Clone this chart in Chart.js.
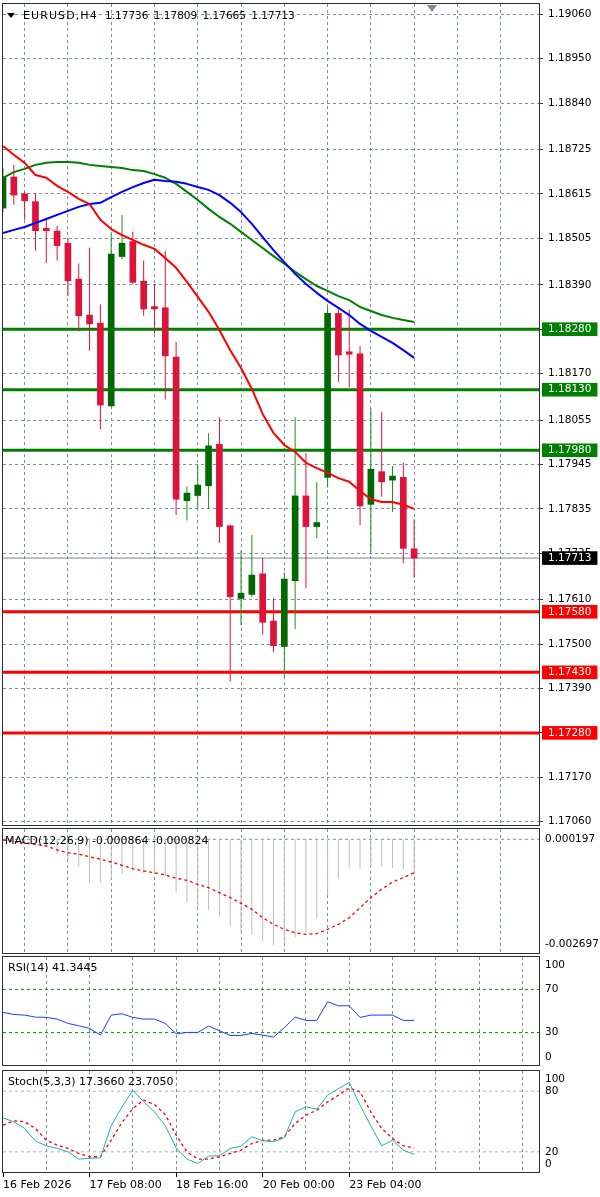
<!DOCTYPE html>
<html>
<head>
<meta charset="utf-8">
<title>EURUSD H4</title>
<script src="https://cdn.jsdelivr.net/npm/chart.js@4.4.1/dist/chart.umd.min.js"></script>
<style>
  html, body { margin:0; padding:0; background:#ffffff; }
  #wrap { position:relative; width:600px; height:1197px; overflow:hidden; background:#fff; }
  #wrap canvas { position:absolute; left:0; }
  .lbl { position:absolute; font-family:'DejaVu Sans', sans-serif; font-size:11px; line-height:13px; color:#000; white-space:pre; z-index:5; }
  .tri { position:absolute; width:0; height:0; z-index:5; }
</style>
</head>
<body>
<div id="wrap">
  <canvas id="cMain"></canvas>
  <canvas id="cMacd"></canvas>
  <canvas id="cRsi"></canvas>
  <canvas id="cStoch"></canvas>
  <div class="tri" style="left:7px;top:13px;border-left:4px solid transparent;border-right:4px solid transparent;border-top:5px solid #000;"></div>
  <div class="lbl" id="tMain" style="left:23px;top:9px;"></div>
  <div class="tri" style="left:427px;top:5px;border-left:5px solid transparent;border-right:5px solid transparent;border-top:7px solid #7d8c9b;"></div>
  <div class="lbl" id="tMacd" style="left:5px;top:834px;"></div>
  <div class="lbl" id="tRsi" style="left:8px;top:961px;"></div>
  <div class="lbl" id="tStoch" style="left:8px;top:1075px;"></div>
</div>
<script>
// ===================== DATA =====================
const symbolName = 'EURUSD,H4';

const open  = [1.18580,1.18657,1.18615,1.18596,1.18530,1.18523,1.18493,1.18404,1.18315,1.18295,1.18090,1.18460,1.18497,1.18399,1.18336,1.18333,1.18211,1.17855,1.17868,1.17892,1.17995,1.17793,1.17613,1.17623,1.17674,1.17557,1.17494,1.17657,1.17867,1.17791,1.17913,1.18319,1.18224,1.18219,1.17846,1.17927,1.17906,1.17913,1.17736];
const high  = [1.18679,1.18687,1.18620,1.18618,1.18551,1.18536,1.18505,1.18443,1.18482,1.18342,1.18516,1.18563,1.18522,1.18450,1.18392,1.18474,1.18248,1.17890,1.17945,1.18022,1.18062,1.17795,1.17731,1.17770,1.17713,1.17613,1.17677,1.18062,1.17973,1.17901,1.18336,1.18332,1.18328,1.18238,1.18084,1.18074,1.17941,1.17949,1.17809];
const low   = [1.18570,1.18588,1.18551,1.18474,1.18444,1.18450,1.18362,1.18274,1.18227,1.18032,1.18088,1.18453,1.18392,1.18313,1.18270,1.18106,1.17820,1.17806,1.17835,1.17835,1.17751,1.17407,1.17547,1.17617,1.17523,1.17480,1.17419,1.17537,1.17638,1.17762,1.17888,1.18150,1.18136,1.17795,1.17729,1.17865,1.17828,1.17700,1.17665];
const close = [1.18657,1.18612,1.18598,1.18524,1.18524,1.18487,1.18400,1.18313,1.18293,1.18092,1.18466,1.18493,1.18396,1.18330,1.18330,1.18214,1.17859,1.17874,1.17894,1.17991,1.17791,1.17617,1.17626,1.17671,1.17554,1.17496,1.17661,1.17867,1.17791,1.17801,1.18319,1.18216,1.18218,1.17842,1.17933,1.17902,1.17916,1.17737,1.17713];

const maRed   = [1.18734,1.18712,1.18692,1.18662,1.18655,1.18635,1.18620,1.18603,1.18590,1.18551,1.18528,1.18513,1.18501,1.18489,1.18479,1.18456,1.18432,1.18397,1.18360,1.18323,1.18278,1.18228,1.18184,1.18132,1.18070,1.18023,1.17993,1.17976,1.17949,1.17936,1.17924,1.17911,1.17902,1.17879,1.17859,1.17852,1.17852,1.17845,1.17835];
const maBlue  = [1.18518,1.18526,1.18533,1.18543,1.18553,1.18563,1.18573,1.18583,1.18590,1.18593,1.18607,1.18620,1.18632,1.18642,1.18650,1.18647,1.18645,1.18640,1.18632,1.18625,1.18612,1.18593,1.18570,1.18541,1.18508,1.18476,1.18446,1.18417,1.18392,1.18370,1.18350,1.18333,1.18315,1.18293,1.18276,1.18261,1.18246,1.18228,1.18209];
const maGreen = [1.18655,1.18669,1.18677,1.18687,1.18692,1.18694,1.18694,1.18692,1.18687,1.18684,1.18682,1.18679,1.18674,1.18672,1.18664,1.18655,1.18640,1.18620,1.18600,1.18578,1.18558,1.18541,1.18521,1.18501,1.18481,1.18461,1.18442,1.18422,1.18404,1.18387,1.18375,1.18362,1.18352,1.18335,1.18325,1.18315,1.18308,1.18303,1.18298];

const greenLevels = [1.18280, 1.18130, 1.17980];
const redLevels   = [1.17580, 1.17430, 1.17280];

const yTickLabels = ['1.19060','1.18950','1.18840','1.18725','1.18615','1.18505','1.18390','1.18280','1.18170','1.18055','1.17945','1.17835','1.17725','1.17610','1.17500','1.17390','1.17280','1.17170','1.17060'];

const macdHist   = [-0.000042,-0.000067,-0.000091,-0.000141,-0.000190,-0.000371,-0.000511,-0.000684,-0.001087,-0.001072,-0.000988,-0.000850,-0.000766,-0.000825,-0.000840,-0.000906,-0.001319,-0.001549,-0.001714,-0.001746,-0.001912,-0.002141,-0.002322,-0.002347,-0.002512,-0.002611,-0.002554,-0.002430,-0.002290,-0.001961,-0.001383,-0.000973,-0.000701,-0.000726,-0.000701,-0.000677,-0.000701,-0.000741,-0.000864];
const macdSignal = [-0.000017,-0.000054,-0.000091,-0.000128,-0.000165,-0.000264,-0.000331,-0.000371,-0.000430,-0.000494,-0.000561,-0.000642,-0.000726,-0.000783,-0.000825,-0.000882,-0.000963,-0.001013,-0.001112,-0.001195,-0.001319,-0.001442,-0.001581,-0.001729,-0.001936,-0.002100,-0.002223,-0.002307,-0.002347,-0.002332,-0.002223,-0.002100,-0.001936,-0.001689,-0.001442,-0.001235,-0.001055,-0.000948,-0.000824];
const macdAxisLabels = ['0.000197', '-0.002697'];

const rsi = [48.67,46.82,46.20,44.35,44.05,42.50,38.49,36.33,33.86,27.69,46.20,47.44,44.05,42.50,42.50,38.49,28.92,30.16,30.16,36.02,31.70,27.38,27.38,29.23,27.69,25.83,34.47,44.35,41.27,41.27,58.55,54.84,54.84,44.05,46.20,46.20,46.20,41.27,41.3445];
const rsiLevels = [70, 30];
const rsiEdgeLabels = [100, 0];

const stochK = [53.64,49.69,43.10,30.58,25.96,23.33,20.03,12.79,13.45,14.10,45.74,64.51,80.99,69.46,59.57,45.74,23.99,12.79,8.50,15.75,16.08,23.33,25.64,34.86,30.90,29.92,33.87,59.57,64.51,62.21,76.05,82.64,88.57,66.16,45.74,25.96,31.55,21.68,17.3660];
const stochD = [46.39,50.67,49.69,43.10,31.57,26.62,23.33,18.39,15.09,15.09,31.57,49.03,62.87,71.10,66.82,56.94,36.51,20.03,12.79,12.79,15.09,18.39,21.68,28.28,31.24,31.57,34.86,48.04,56.28,61.22,69.46,76.05,83.29,79.34,59.57,43.10,33.21,25.96,23.7050];
const stochLevels = [80, 20];
const stochEdgeLabels = [100, 0];

const xGridBars  = [0,4,8,12,16,20,24,28,32,36,40,44,48];
const xLabelBars = [0,8,16,24,32];
const xLabels    = ['16 Feb 2026','17 Feb 08:00','18 Feb 16:00','20 Feb 00:00','23 Feb 04:00'];

// ===================== STYLE / LAYOUT =====================
const FONT = 'DejaVu Sans';
const GRID = '#7f8e9d';
const CLEAR = 'rgba(0,0,0,0)';
const X_MIN = 0, X_MAX = 49.54;
const AXIS_W = 61;

const n = close.length;
const pts = arr => arr.map((v, i) => ({x: i, y: v}));
const span = v => [{x: X_MIN, y: v}, {x: X_MAX, y: v}];

function setupCanvas(id, areaTop, areaBottom, extraTop, extraBottom) {
  const cv = document.getElementById(id);
  const h = (areaBottom - areaTop) + extraTop + extraBottom;
  cv.width = 600; cv.height = h;
  cv.style.width = '600px'; cv.style.height = h + 'px';
  cv.style.top = (areaTop - extraTop) + 'px';
  return cv;
}

const framePlugin = {
  id: 'frame',
  afterLayout(chart) {
    // the edge-label axis takes no layout room; let its labels use the whole right gutter
    const s = chart.scales.yl;
    if (s && s.width === 0) { s.right = s.left + AXIS_W; }
  },
  afterDraw(chart) {
    const a = chart.chartArea, c = chart.ctx;
    c.save();
    c.strokeStyle = '#2e2e2e';
    c.lineWidth = 1;
    c.strokeRect(Math.round(a.left) - 0.5, Math.round(a.top) - 0.5, Math.round(a.right - a.left) + 1, Math.round(a.bottom - a.top) + 1);
    c.restore();
  }
};

function xScale(showLabels) {
  return {
    type: 'linear', min: X_MIN, max: X_MAX, offset: false,
    afterBuildTicks: s => { s.ticks = xGridBars.map(v => ({value: v})); },
    afterFit: s => { s.height = showLabels ? 25 : 0; },
    ticks: {
      display: showLabels, autoSkip: false, maxRotation: 0, minRotation: 0,
      align: 'start', padding: 2, color: '#000',
      font: {family: FONT, size: 11},
      callback: v => { const k = xLabelBars.indexOf(v); return k >= 0 ? xLabels[k] : ''; }
    },
    grid: {
      display: true, drawOnChartArea: true, drawTicks: showLabels, tickLength: 5, lineWidth: 1,
      color: ctx => (ctx.tick && ctx.tick.value === 0) ? CLEAR : GRID,
      tickColor: ctx => (ctx.tick && xLabelBars.includes(ctx.tick.value)) ? '#000' : CLEAR
    },
    border: {display: false, dash: [3, 3]}
  };
}

function labelAxis(vals, labels, min, max, width, weight) {
  return {
    type: 'linear', position: 'right', weight: weight, min: min, max: max,
    afterBuildTicks: s => { s.ticks = vals.map(v => ({value: v})); },
    afterFit: s => { s.width = width; },
    grid: {display: false, drawTicks: false, drawOnChartArea: false},
    border: {display: false},
    ticks: {
      autoSkip: false, padding: 6, color: '#000',
      font: {family: FONT, size: 10.5},
      callback: (v, i) => labels[i]
    }
  };
}

const baseOpts = (padTop, padBottom) => ({
  responsive: false, animation: false, devicePixelRatio: 1, events: [],
  layout: {autoPadding: false, padding: {left: 3, right: 0, top: padTop, bottom: padBottom}},
  plugins: {legend: {display: false}, tooltip: {enabled: false}, title: {display: false}}
});

// ===================== MAIN CHART =====================
const isBull = close.map((c, i) => c >= open[i]);
const levelVals = greenLevels.concat(redLevels);
const lastPrice = close[n - 1];
const mainTickVals = yTickLabels.map(parseFloat).concat(levelVals, [lastPrice]);
const nReg = yTickLabels.length;

const lineDs = (data, color, width, order, dash) => ({
  type: 'line', data: data, borderColor: color, backgroundColor: color, borderWidth: width,
  pointRadius: 0, tension: 0, fill: false, order: order, borderDash: dash || [],
  borderJoinStyle: 'round'
});

const cvMain = setupCanvas('cMain', 4, 825, 16, 16);
new Chart(cvMain, {
  type: 'line',
  data: {
    datasets: [
      lineDs(pts(maRed), '#ff0000', 2, 0),
      lineDs(pts(maBlue), '#0000ff', 2, 0),
      lineDs(pts(maGreen), '#008000', 2, 0),
      {type: 'bar', data: close.map((c, i) => ({x: i, y: [open[i], c]})),
       backgroundColor: isBull.map(b => b ? '#006a00' : '#dc143c'),
       borderWidth: 0, barThickness: 6, grouped: false, minBarLength: 1, order: 1},
      {type: 'bar', data: close.map((c, i) => ({x: i, y: [low[i], high[i]]})),
       backgroundColor: isBull.map(b => b ? '#1e8f1e' : '#dc143c'),
       borderWidth: 0, barThickness: 1, grouped: false, inflateAmount: 0, order: 2},
      ...greenLevels.map(v => lineDs(span(v), '#008000', 3, 3)),
      ...redLevels.map(v => lineDs(span(v), '#ff0000', 3, 3)),
      lineDs(span(lastPrice), '#7b8896', 1, 4)
    ]
  },
  options: Object.assign(baseOpts(16, 16), {
    scales: {
      x: xScale(false),
      y: {
        type: 'linear', position: 'right', min: 1.170518, max: 1.190855,
        afterBuildTicks: s => { s.ticks = mainTickVals.map(v => ({value: v})); },
        afterFit: s => { s.width = AXIS_W; },
        ticks: {
          autoSkip: false, padding: 1,
          font: {family: FONT, size: 10.5},
          callback: (v, i) => i < nReg ? yTickLabels[i] : Number(v).toFixed(5),
          color: ctx => ctx.index >= nReg ? '#ffffff' : '#000000',
          showLabelBackdrop: ctx => ctx.index >= nReg,
          backdropColor: ctx => {
            const k = ctx.index - nReg;
            if (k < 0) return CLEAR;
            if (k < greenLevels.length) return '#008000';
            if (k < levelVals.length) return '#ff0000';
            return '#000000';
          },
          backdropPadding: {top: 0.5, bottom: 0.5, left: 6, right: 6}
        },
        grid: {
          drawOnChartArea: true, drawTicks: true, tickLength: 8, lineWidth: 1,
          color: ctx => ctx.index < nReg ? GRID : CLEAR,
          tickColor: ctx => ctx.index < nReg ? '#444' : CLEAR,
          tickBorderDash: [0, 1, 3, 40]
        },
        border: {display: false, dash: [3, 3]}
      }
    }
  }),
  plugins: [framePlugin]
});

// ===================== MACD =====================
const cvMacd = setupCanvas('cMacd', 829, 953, 16, 16);
new Chart(cvMacd, {
  type: 'line',
  data: {
    datasets: [
      lineDs(pts(macdSignal), '#ff0000', 1.3, 0, [3, 3]),
      {type: 'bar', data: pts(macdHist), backgroundColor: '#bdbdbd', borderWidth: 0,
       barThickness: 1, grouped: false, inflateAmount: 0, order: 1},
      lineDs(span(0), GRID, 1, 2, [3, 3])
    ]
  },
  options: Object.assign(baseOpts(16, 16), {
    scales: {
      x: xScale(false),
      y: {type: 'linear', display: false, min: -0.002808, max: 0.000254},
      yl: labelAxis(macdAxisLabels.map(parseFloat), macdAxisLabels, -0.002945, 0.000473, AXIS_W, 0)
    }
  }),
  plugins: [framePlugin]
});

// ===================== RSI =====================
const cvRsi = setupCanvas('cRsi', 957, 1065, 16, 16);
new Chart(cvRsi, {
  type: 'line',
  data: {
    datasets: [
      lineDs(pts(rsi), '#1e3cff', 1, 0),
      ...rsiLevels.map(v => lineDs(span(v), '#009000', 1, 1, [3, 3]))
    ]
  },
  options: Object.assign(baseOpts(16, 16), {
    scales: {
      x: xScale(false),
      y: labelAxis(rsiLevels, rsiLevels.map(String), 0, 100, AXIS_W, 1),
      yl: labelAxis(rsiEdgeLabels, rsiEdgeLabels.map(String), -8.7, 108.7, 0, 0)
    }
  }),
  plugins: [framePlugin]
});

// ===================== STOCH =====================
const cvSt = setupCanvas('cStoch', 1071, 1172, 16, 25);
new Chart(cvSt, {
  type: 'line',
  data: {
    datasets: [
      lineDs(pts(stochK), '#20b2aa', 1, 0),
      lineDs(pts(stochD), '#ff0000', 1.3, 1, [3, 3]),
      ...stochLevels.map(v => lineDs(span(v), '#b4b4b4', 1, 2, [3, 3]))
    ]
  },
  options: Object.assign(baseOpts(16, 0), {
    scales: {
      x: xScale(true),
      y: labelAxis(stochLevels, stochLevels.map(String), 0, 100, AXIS_W, 1),
      yl: labelAxis(stochEdgeLabels, stochEdgeLabels.map(String), -9.0, 109.4, 0, 0)
    }
  }),
  plugins: [framePlugin]
});

// ===================== TITLES =====================
const f5 = v => v.toFixed(5);
document.getElementById('tMain').innerHTML =
  '<span style="display:inline-block;width:82px;letter-spacing:1.1px">' + symbolName + '</span>' +
  '<span style="font-size:10.5px;word-spacing:2px">' +
  [open[n-1], high[n-1], low[n-1], close[n-1]].map(f5).join(' ') + '</span>';
document.getElementById('tMacd').textContent =
  'MACD(12,26,9) ' + macdHist[n-1].toFixed(6) + ' ' + macdSignal[n-1].toFixed(6);
document.getElementById('tRsi').textContent = 'RSI(14) ' + rsi[n-1].toFixed(4);
document.getElementById('tStoch').textContent =
  'Stoch(5,3,3) ' + stochK[n-1].toFixed(4) + ' ' + stochD[n-1].toFixed(4);
</script>
</body>
</html>
